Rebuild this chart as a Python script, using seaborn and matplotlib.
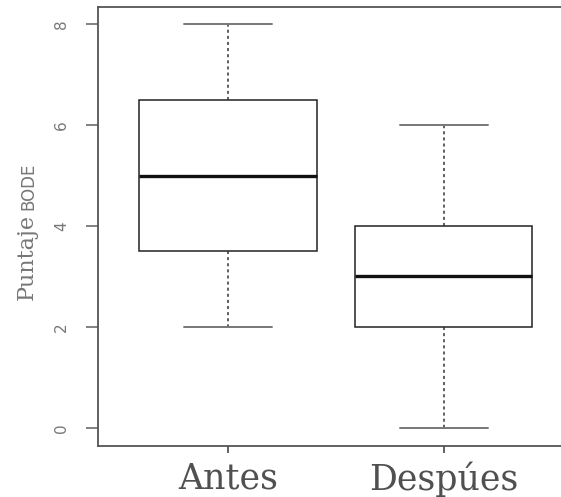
import pandas as pd
import matplotlib
matplotlib.use('Agg')
import matplotlib.pyplot as plt
import seaborn as sns

# datos del grafico (puntaje BODE antes y despues)
grupos = ['Antes', 'Despúes']
antes = [2, 3.5, 5, 6.5, 8]
despues = [0, 2, 3, 4, 6]
yticks = [0, 2, 4, 6, 8]

df = pd.DataFrame({'grupo': [grupos[0]] * len(antes) + [grupos[1]] * len(despues),
                   'puntaje': antes + despues})

sns.set_style('ticks')
plt.rcParams['font.family'] = ['DejaVu Sans']

fig = plt.figure(figsize=(5.61, 4.97), dpi=100)
ax = fig.add_axes([98 / 561, 1 - 446 / 497, 1 - 98 / 561, (446 - 7) / 497])

sns.boxplot(data=df, x='grupo', y='puntaje', order=grupos, ax=ax,
            width=0.82, color='white', linecolor='black', linewidth=1.1,
            boxprops=dict(facecolor='white', edgecolor='#222222', linewidth=1.1),
            medianprops=dict(color='#111111', linewidth=2.4),
            whiskerprops=dict(color='#333333', linestyle=(0, (2, 2)), linewidth=1.1),
            capprops=dict(color='#777777', linewidth=1.4))

ax.set_xlim(-0.602, 1.542)
ax.set_ylim(-0.36, 8.34)
ax.set_yticks(yticks)
ax.set_yticklabels([str(v) for v in yticks], rotation=90, va='center',
                   color='#777777', fontsize=11)
ax.tick_params(axis='y', length=9, width=1.3, color='#777777', pad=12)
ax.tick_params(axis='x', length=5, width=1.3, color='#555555', pad=6)
ax.set_xticks(range(len(grupos)))
ax.set_xticklabels(grupos, fontsize=25, color='#505050', family='DejaVu Serif')
ax.set_xlabel('')
ax.set_ylabel('')

for s in ['left', 'top', 'bottom']:
    ax.spines[s].set_color('#555555')
    ax.spines[s].set_linewidth(1.3)
ax.spines['right'].set_visible(False)

# etiqueta del eje y: "Puntaje" + "BODE" en versalitas, misma linea base
fig.text(33 / 561, 1 - 300 / 497, 'Puntaje', rotation=90, rotation_mode='anchor',
         ha='left', va='baseline', fontsize=16, color='#777777', family='DejaVu Serif')
fig.text(33 / 561, 1 - 210 / 497, 'BODE', rotation=90, rotation_mode='anchor',
         ha='left', va='baseline', fontsize=12, color='#777777', family='DejaVu Sans')

fig.savefig('out.png', dpi=100)
